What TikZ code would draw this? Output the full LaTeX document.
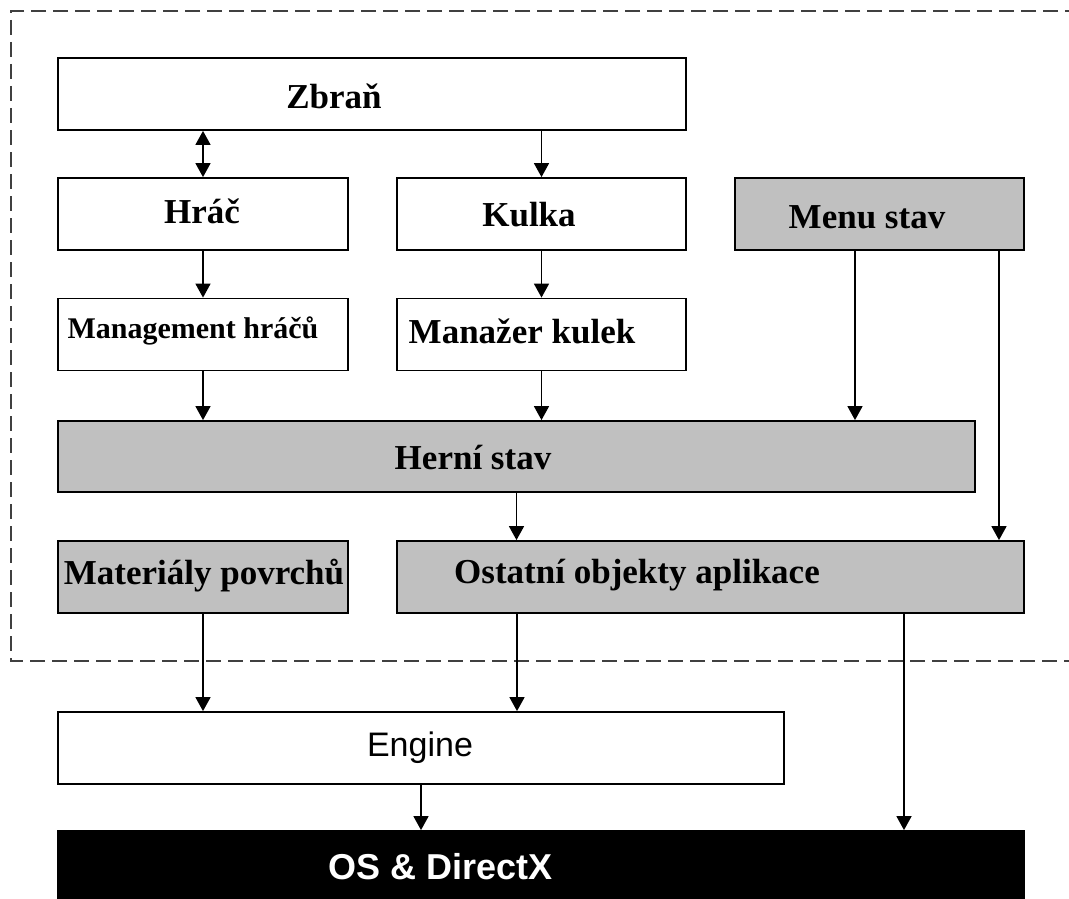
\documentclass[tikz,border=0pt]{standalone}
\usepackage{fontspec}
\setmainfont{Liberation Serif}
\newfontfamily\enginefont{Liberation Sans}
\usetikzlibrary{arrows.meta}
\definecolor{boxgray}{HTML}{C0C0C0}
\definecolor{framegray}{HTML}{404040}
\tikzset{
  x=1pt, y=-1pt,
  box/.style={draw=black, line width=1.8pt, rectangle, inner sep=0pt,
              minimum height=72pt, fill=white},
  graybox/.style={box, fill=boxgray},
  lbl/.style={inner sep=0pt, font=\bfseries\fontsize{35}{40}\selectfont},
  smalllbl/.style={inner sep=0pt, font=\bfseries\fontsize{30}{34}\selectfont},
  tip/.tip={Triangle[length=14pt,width=15pt]},
  arr/.style={line width=1.6pt, -tip},
  dblarr/.style={line width=1.6pt, tip-tip},
  frame/.style={draw=framegray, line width=2pt, dash pattern=on 15pt off 7pt}
}
\begin{document}
\begin{tikzpicture}
\useasboundingbox (0,0) rectangle (1069,899);

% application layer frame (open on the right)
\draw[frame] (1080,11) -- (11,11) -- (11,661) -- (1080,661);

% boxes
\node[box, minimum width=628pt] (zbran) at (372,94) {};
\node[box, minimum width=290pt] (hrac) at (203,214) {};
\node[box, minimum width=289pt] (kulka) at (541.5,214) {};
\node[graybox, minimum width=289pt] (menu) at (879.5,214) {};
\node[box, minimum width=290pt] (mgmt) at (203,334.5) {};
\node[box, minimum width=289pt] (manazer) at (541.5,334.5) {};
\node[graybox, minimum width=917pt, minimum height=71pt] (herni) at (516.5,456.5) {};
\node[graybox, minimum width=290pt] (mater) at (203,577) {};
\node[graybox, minimum width=627pt] (ostatni) at (710.5,577) {};
\node[box, minimum width=726pt] (engine) at (421,748) {};
\node[box, fill=black, minimum width=966pt, minimum height=80pt] (os) at (541,871) {};

% labels
\node[lbl] (tzbran) at (334,96) {Zbraň};
\node[lbl] (thrac) at (202,211) {Hráč};
\node[lbl] (tkulka) at (529,215) {Kulka};
\node[lbl] (tmenu) at (867,217) {Menu stav};
\node[smalllbl] (tmgmt) at (193,331) {Management hráčů};
\node[lbl] (tmanazer) at (522,331) {Manažer kulek};
\node[lbl] (therni) at (473,458) {Herní stav};
\node[lbl] (tmater) at (204,576) {Materiály povrchů};
\node[lbl] (tostatni) at (637,575) {Ostatní objekty aplikace};
\node[inner sep=0pt, font=\enginefont\fontsize{34}{38}\selectfont] (tengine) at (420,748) {Engine};
\node[inner sep=0pt, text=white, font=\enginefont\bfseries\fontsize{36}{40}\selectfont] (tos) at (441,867) {OS \& DirectX};

% connectors
\draw[dblarr] (hrac.north |- zbran.south) -- (hrac.north);
\draw[arr] (kulka.north |- zbran.south) -- (kulka.north);
\draw[arr] (hrac.south) -- (mgmt.north);
\draw[arr] (kulka.south) -- (manazer.north);
\draw[arr] (mgmt.south) -- (mgmt.south |- herni.north);
\draw[arr] (manazer.south) -- (manazer.south |- herni.north);
\draw[arr] ([xshift=-24.5pt]menu.south) -- ([xshift=-24.5pt]menu.south |- herni.north);
\draw[arr] ([xshift=119.5pt]menu.south) -- ([xshift=119.5pt]menu.south |- ostatni.north);
\draw[arr] (herni.south) -- (herni.south |- ostatni.north);
\draw[arr] (mater.south) -- (mater.south |- engine.north);
\draw[arr] ([xshift=-193.5pt]ostatni.south) -- ([xshift=-193.5pt]ostatni.south |- engine.north);
\draw[arr] (engine.south) -- (engine.south |- os.north);
\draw[arr] ([xshift=193.5pt]ostatni.south) -- ([xshift=193.5pt]ostatni.south |- os.north);
\end{tikzpicture}
\end{document}
